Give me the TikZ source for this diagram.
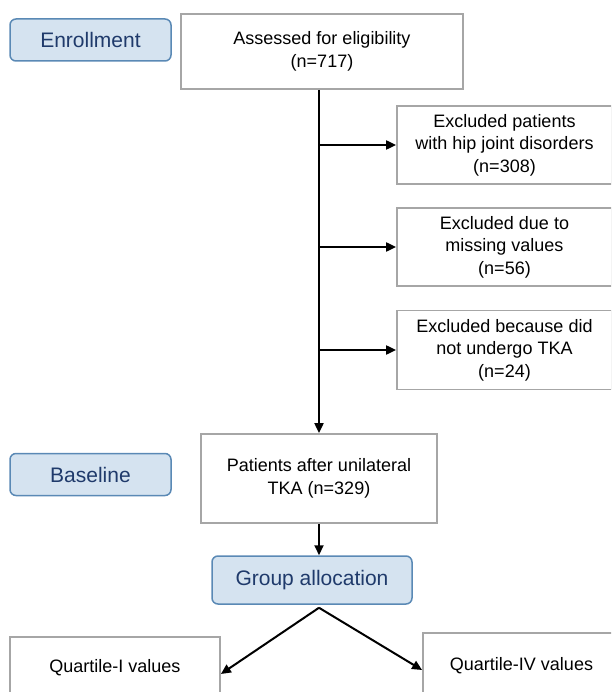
\documentclass[tikz,border=0pt]{standalone}
\usepackage{fontspec}
\setmainfont{Liberation Sans}
\usepackage{tikz}
\usetikzlibrary{arrows.meta}
\definecolor{phasefill}{HTML}{D5E3F0}
\definecolor{phaseline}{HTML}{5A89B5}
\definecolor{phasetext}{HTML}{1F3A6B}
\definecolor{boxline}{HTML}{A6A6A6}
\tikzstyle{process} = [rectangle, align=center, draw=boxline, line width=1.8pt, inner sep=0pt, font=\fontsize{18}{22.5}\selectfont]
\tikzstyle{phase} = [rectangle, rounded corners=6pt, minimum width=161pt, minimum height=42pt, fill=phasefill, draw=phaseline, line width=1.5pt, text=phasetext, font=\fontsize{21}{25}\selectfont]
\tikzstyle{arrow} = [line width=2pt,->,>={Triangle[length=10pt,width=9pt]}]

\begin{document}
\begin{tikzpicture}[x=1pt, y=-1pt, node distance=102pt]
    \useasboundingbox (0,0) rectangle (611,692);
    \clip (0,0) rectangle (611,692);
    % phase labels
    \node (enroll) [phase] at (90.5,40) {Enrollment};
    \node (baseline) [phase] at (90.5,474.5) {Baseline};
    % main flow
    \node (assess) [process, minimum width=282pt, minimum height=75pt] at (322,51.5) {Assessed for eligibility\\(n=717)};
    \node (excl_hip) [process, minimum width=215pt, minimum height=78pt] at (504.5,145) {Excluded patients\\with hip joint disorders\\(n=308)};
    \node (excl_miss) [process, below of=excl_hip, minimum width=215pt, minimum height=78pt] {Excluded due to\\missing values\\(n=56)};
    \node (excl_tka) [process, below of=excl_miss, node distance=103pt, minimum width=215pt, minimum height=79pt] {Excluded because did\\not undergo TKA\\(n=24)};
    \node (patients) [process, minimum width=236pt, minimum height=89pt] at (319,478.5) {Patients after unilateral\\TKA (n=329)};
    \node (group) [phase, minimum width=200pt, minimum height=48pt] at (312,580) {Group allocation};
    \node (quart1) [process, minimum width=210pt, minimum height=62pt] at (115,668) {Quartile-I values};
    \node (quart4) [process, minimum width=197pt, minimum height=66pt] at (521.5,666) {Quartile-IV values};
    \coordinate (split) at ([yshift=-3pt]group.south -| patients.south);
    \draw [arrow] (assess.south -| patients.north) -- (patients.north);
    \draw [arrow] (excl_hip.west -| patients.north) -- (excl_hip.west);
    \draw [arrow] (excl_miss.west -| patients.north) -- (excl_miss.west);
    \draw [arrow] (excl_tka.west -| patients.north) -- (excl_tka.west);
    \draw [arrow] (patients.south) -- (group.north -| patients.south);
    \draw [arrow] (split) -- ([yshift=-6pt]quart1.east);
    \draw [arrow] (split) -- ([yshift=-4pt]quart4.west);
\end{tikzpicture}
\end{document}
